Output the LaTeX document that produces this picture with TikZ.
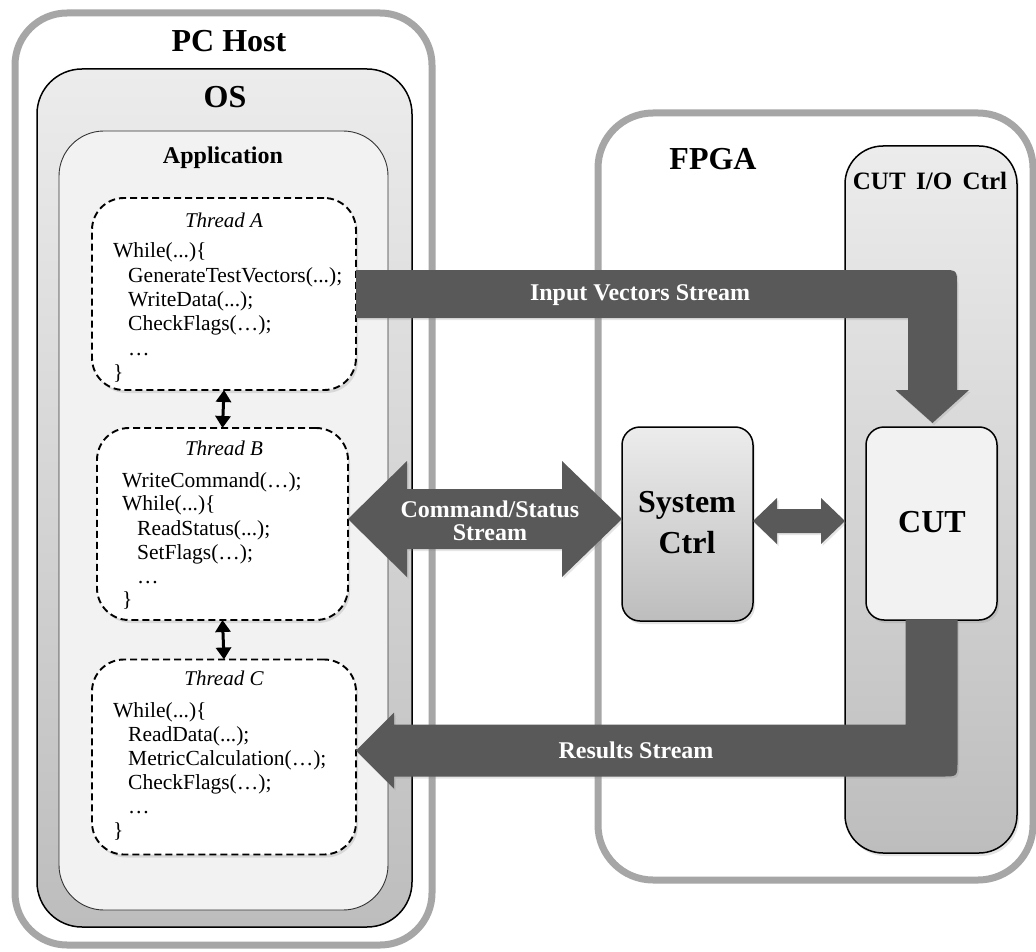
\documentclass[tikz,border=0pt]{standalone}
\usepackage{fontspec}
\setmainfont{Liberation Serif}
\usetikzlibrary{calc,shadows,arrows.meta}

\definecolor{outergray}{HTML}{A6A6A6}
\definecolor{arrowgray}{HTML}{595959}
\definecolor{lightfill}{HTML}{F2F2F2}
\definecolor{topgray}{HTML}{ECECEC}
\definecolor{botgray}{HTML}{BDBDBD}

\begin{document}
\begin{tikzpicture}[x=1pt,y=-1pt,
  box/.style={inner sep=0pt, outer sep=0pt},
  softshadow/.style={drop shadow={shadow xshift=2pt, shadow yshift=-3pt, opacity=0.22}},
  outerbox/.style={box, draw=outergray, line width=7pt, fill=white, softshadow},
  osbox/.style={box, draw=black, line width=1.5pt, top color=topgray, bottom color=botgray, rounded corners=45pt},
  appbox/.style={box, draw=black!80, line width=0.9pt, fill=lightfill, rounded corners=45pt},
  threadbox/.style={box, draw=black, dash pattern=on 7pt off 4pt, line width=1.9pt, fill=white, rounded corners=32pt, softshadow},
  ctrlbox/.style={box, draw=black, line width=1.5pt, top color=topgray, bottom color=botgray, softshadow},
  cutbox/.style={box, draw=black, line width=1.5pt, fill=lightfill, rounded corners=18pt, softshadow},
  title/.style={inner sep=0pt, anchor=base, font=\bfseries\fontsize{32}{36}\selectfont},
  subtitle/.style={inner sep=0pt, anchor=base, font=\bfseries\fontsize{24}{28}\selectfont},
  code/.style={inner sep=0pt, anchor=base west, font=\fontsize{21.5}{25}\selectfont},
  threadtitle/.style={inner sep=0pt, anchor=base, font=\itshape\fontsize{21}{25}\selectfont},
  arrowlabel/.style={inner sep=0pt, anchor=base, text=white, font=\bfseries\fontsize{24}{24}\selectfont},
  blockarrow/.style={fill=arrowgray, drop shadow={shadow xshift=1.5pt, shadow yshift=-2pt, opacity=0.2}},
  threadlink/.style={line width=3pt, {Triangle[width=15pt,length=12pt]}-{Triangle[width=15pt,length=12pt]}}
]
\useasboundingbox (0,0) rectangle (1036,952);

% ---------- PC host side ----------
\node[outerbox, rounded corners=52pt, minimum width=417pt, minimum height=932pt] (pc) at (223.5,479) {};
\node[osbox, minimum width=375pt, minimum height=858pt] (os) at (224.5,498) {};
\node[appbox, minimum width=329pt, minimum height=779pt] (app) at (223.5,520.5) {};

\node[title] (pcLbl) at (229,52) {PC Host};
\node[title] (osLbl) at (225,108) {OS};
\node[subtitle] (appLbl) at (223,164) {Application};

% Threads
\node[threadbox, minimum width=264pt, minimum height=192pt] (tA) at (224,294) {};
\node[threadbox, minimum width=251pt, minimum height=192pt] (tB) at (222.5,524) {};
\node[threadbox, minimum width=264pt, minimum height=195pt] (tC) at (224,757) {};

% Thread A text
\node[threadtitle] (tAt) at (224,228) {Thread A};
\node[code] (a1) at (113,257) {While(...)\{};
\node[code] (a2) at (128,282) {GenerateTestVectors(...);};
\node[code] (a3) at (128,306) {WriteData(...);};
\node[code] (a4) at (128,330) {CheckFlags(…);};
\node[code] (a5) at (128,355) {…};
\node[code] (a6) at (113,379) {\}};

% Thread B text
\node[threadtitle] (tBt) at (224,455) {Thread B};
\node[code] (b1) at (122,487) {WriteCommand(…);};
\node[code] (b2) at (122,510) {While(...)\{};
\node[code] (b3) at (137,535) {ReadStatus(...);};
\node[code] (b4) at (137,559) {SetFlags(…);};
\node[code] (b5) at (137,583) {…};
\node[code] (b6) at (122,606) {\}};

% Thread C text
\node[threadtitle] (tCt) at (224,685) {Thread C};
\node[code] (c1) at (113,717) {While(...)\{};
\node[code] (c2) at (128,741) {ReadData(...);};
\node[code] (c3) at (128,765) {MetricCalculation(…);};
\node[code] (c4) at (128,789) {CheckFlags(…);};
\node[code] (c5) at (128,813) {…};
\node[code] (c6) at (113,837) {\}};

\draw[threadlink] (tA.south) -- (tB.north);
\draw[threadlink] (tB.south) -- (tC.north);

% ---------- FPGA side ----------
\node[outerbox, rounded corners=55pt, minimum width=435pt, minimum height=767pt] (fpga) at (815.5,496.5) {};
\node[title] (fpgaLbl) at (713,170) {FPGA};

\node[ctrlbox, rounded corners=38pt, minimum width=172pt, minimum height=707pt] (cutio) at (931,499.5) {};
\node[subtitle, font=\bfseries\fontsize{25}{28}\selectfont] (cutioLbl) at (930,190) {CUT\, I/O\, Ctrl};

\node[ctrlbox, rounded corners=18pt, minimum width=131pt, minimum height=194pt] (sys) at (687.5,524) {};
\node[title] (sysLbl1) at (687,512) {System};
\node[title] (sysLbl2) at (687,553) {Ctrl};

\node[cutbox, minimum width=131pt, minimum height=193pt] (cut) at (931.5,523.5) {};
\node[title] (cutLbl) at (932,532) {CUT};

% ---------- Block arrows ----------
% Input Vectors Stream
\coordinate (ivA) at ($(tA.east)+(0,-24)$);
\coordinate (ivTip) at ($(cut.north)+(1,-4)$);
\coordinate (ivC) at (ivTip |- ivA);
\fill[blockarrow] (ivA) -- ($(ivC)+(9.5,0)$)
  .. controls ($(ivC)+(24.5,0)$) .. ($(ivC)+(24.5,15)$)
  -- ($(ivTip)+(24.5,-33)$) -- ++(12,0) -- (ivTip) -- ($(ivTip)+(-37,-33)$) -- ++(12.5,0)
  -- ($(ivC)+(-24.5,48)$) -- ($(ivA)+(0,48)$) -- cycle;
\node[arrowlabel] (ivLbl) at (640,300) {Input Vectors Stream};

% Results Stream
\coordinate (rsTop) at (cut.south);
\coordinate (rsTip) at ($(tC.east)+(0,-6.5)$);
\coordinate (rsC) at (rsTop |- rsTip);
\fill[blockarrow] ($(rsTop)+(-26,0)$) -- ($(rsTop)+(26,0)$)
  -- ($(rsC)+(26,11)$) .. controls ($(rsC)+(26,26)$) .. ($(rsC)+(11,26)$)
  -- ($(rsTip)+(38,26)$) -- ++(0,12) -- (rsTip) -- ($(rsTip)+(38,-38)$) -- ++(0,12)
  -- ($(rsC)+(-26,-26)$) -- cycle;
\node[arrowlabel] (rsLbl) at (636,758) {Results Stream};

% Command/Status Stream
\coordinate (csL) at ($(tB.east)+(0,-5)$);
\coordinate (csR) at ($(sys.west)+(0,-5)$);
\fill[blockarrow] (csL) -- ++(59,-58) -- ++(0,28) -- ($(csR)+(-60,-30)$) -- ++(0,-28)
  -- (csR) -- ++(-60,58) -- ++(0,-28) -- ($(csL)+(59,30)$) -- ++(0,28) -- cycle;
\node[arrowlabel] (csLbl1) at (490,517) {Command/Status};
\node[arrowlabel] (csLbl2) at (490,540) {Stream};

% System Ctrl <-> CUT
\coordinate (scL) at ($(sys.east)+(0,-3)$);
\coordinate (scR) at (scL -| cutio.west);
\fill[blockarrow] (scL) -- ++(24,-23) -- ++(0,11) -- ($(scR)+(-24,-12)$) -- ++(0,-11)
  -- (scR) -- ++(-24,23) -- ++(0,-11) -- ($(scL)+(24,12)$) -- ++(0,11) -- cycle;
\end{tikzpicture}
\end{document}
